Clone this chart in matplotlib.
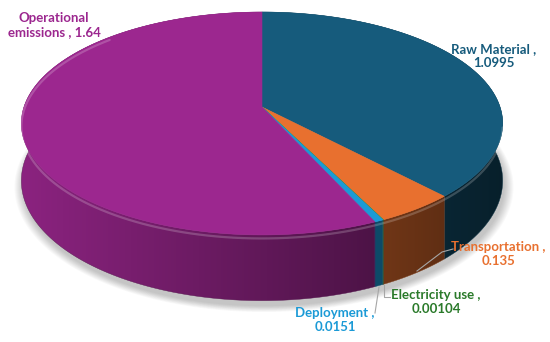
import numpy as np
import matplotlib
matplotlib.use("Agg")
import matplotlib.pyplot as plt
from matplotlib.patches import Polygon
from matplotlib.colors import to_rgb

# data, clockwise from 12 o'clock
names = ["Raw Material", "Transportation", "Electricity use", "Deployment", "Operational\nemissions"]
values = [1.0995, 0.135, 0.00104, 0.0151, 1.64]
seps = [" ,\n", " ,\n", " ,\n", " ,\n", " , "]
top_colors = ["#165b7c", "#e8702f", "#3f8f3f", "#1b9ad6", "#9c278f"]
label_colors = ["#165b7c", "#e8702f", "#2a7a2a", "#1b9ad6", "#9c278f"]

# label placement (pixel space) and leader lines
label_pos = [(494, 56), (498, 254), (436, 302), (335, 320), (54, 25)]
leaders = [None,
           [(453, 249), (442, 252), (417, 271)],
           [(384, 285), (384, 297), (390, 297)],
           [(379, 287), (375, 313)],
           None]

# projection of the disc (simple perspective)
CX, CY = 262, 107
A, B = 238, 109
PERSP = 0.148
DEPTH = 56
W, H = 550, 342


def project(t, drop=0.0, scale=1.0):
    u = np.sin(t) * scale
    v = -np.cos(t) * scale
    w = 1 - PERSP * v
    return CX + A * u / w, CY + (B * v + drop) / w


fig = plt.figure(figsize=(5.5, 3.42), dpi=100)
ax = fig.add_axes([0, 0, 1, 1])
ax.axis("off")

# soft shadow under the pie
ts = np.linspace(0, 2 * np.pi, 361)
for k in range(10):
    sx, sy = project(ts, DEPTH + 3, scale=1.0 + 0.004 * k)
    ax.add_patch(Polygon(np.column_stack([sx + 2, sy + 2]), closed=True, zorder=0,
                         facecolor="#000000", edgecolor="none", alpha=0.025))

total = sum(values)
bounds = np.concatenate([[0], np.cumsum(values) / total]) * 2 * np.pi

# side wall: horizontal light gradient clipped to each slice's band
xs = np.arange(W)
u = np.clip((xs - CX) / A, -1, 1)
fac = np.clip(0.62 - 0.27 * u, 0.2, 1.0)
for i, col in enumerate(top_colors):
    tt = np.linspace(bounds[i], bounds[i + 1], max(3, int(np.degrees(bounds[i + 1] - bounds[i])) * 2 + 2))
    tx, ty = project(tt)
    bx, by = project(tt, DEPTH)
    band = np.column_stack([np.concatenate([tx, bx[::-1]]), np.concatenate([ty, by[::-1]])])
    clip = Polygon(band, closed=True, facecolor="none", edgecolor="none")
    ax.add_patch(clip)
    rgb = np.array(to_rgb(col))
    img = (fac[:, None] * rgb[None, :])[None, :, :]
    im = ax.imshow(img, extent=(0, W, H, 0), aspect="auto", zorder=0.5,
                   interpolation="bilinear")
    im.set_clip_path(clip)
    # thin edge so very narrow slices still show
    ax.add_patch(Polygon(band, closed=True, facecolor="none", zorder=0.6,
                         edgecolor=tuple(rgb * 0.55), linewidth=0.3))

# top faces
for i, col in enumerate(top_colors):
    tt = np.linspace(bounds[i], bounds[i + 1], max(2, int(np.degrees(bounds[i + 1] - bounds[i])) + 2))
    px, py = project(tt)
    pts = [(CX, CY)] + list(zip(px, py))
    ax.add_patch(Polygon(pts, closed=True, facecolor=col, edgecolor=col, linewidth=0.4, zorder=1))

# bevel highlight along the rim
tr = np.linspace(np.pi * 0.55, np.pi * 1.75, 240)
rx, ry = project(tr, 3)
ax.plot(rx, ry, color="white", alpha=0.2, linewidth=1.6, solid_capstyle="round", zorder=2)

# leader lines
for seg in leaders:
    if seg:
        lx, ly = zip(*seg)
        ax.plot(lx, ly, color="#a6a6a6", linewidth=0.8, zorder=2)

# data labels
for name, v, sep, c, (lx, ly) in zip(names, values, seps, label_colors, label_pos):
    ax.text(lx, ly, f"{name}{sep}{v:g}", color=c, fontsize=9.5, fontweight="bold",
            family="Lato", ha="center", va="center",
            multialignment="center", linespacing=1.15, zorder=3)

ax.set_xlim(0, W)
ax.set_ylim(H, 0)
fig.savefig("out.png", dpi=100)
